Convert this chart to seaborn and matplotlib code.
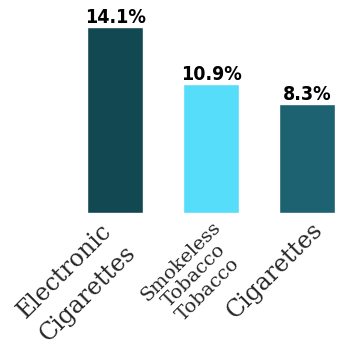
import matplotlib
matplotlib.use("Agg")
import matplotlib.pyplot as plt
import matplotlib.transforms as mtransforms
import seaborn as sns
import pandas as pd

# data
categories = ["Electronic\nCigarettes", "Smokeless\nTobacco\nTobacco", "Cigarettes"]
bar_heights = [14.1, 9.8, 8.3]
value_labels = ["14.1%", "10.9%", "8.3%"]
bar_colors = ["#124852", "#55DDFA", "#1D6270"]

df = pd.DataFrame({"product": categories, "pct": bar_heights})

sns.set_style("white")
fig = plt.figure(figsize=(3.43, 3.47), dpi=100)
ax = fig.add_axes([0, 0.386, 1, 0.614])

sns.barplot(data=df, x="product", y="pct", hue="product", palette=bar_colors,
            width=0.58, saturation=1, legend=False, ax=ax)

ax.set_xlim(-1.198, 2.375)
ax.set_ylim(0, 16.15)

# value labels on top of the bars
for bars, lab in zip(ax.containers, value_labels):
    ax.bar_label(bars, labels=[lab], padding=0, fontsize=14, fontweight="bold",
                 family="DejaVu Sans", fontstretch="condensed", color="black")

ax.set_xlabel("")
ax.set_ylabel("")
ax.set_yticks([])
ax.tick_params(axis="x", length=0, pad=0)
# per label: size, line spacing, nudge in pixels (dx, dy down), found by eye
sizes = [17, 14, 17]
spacings = [1.55, 1.12, 1.2]
nudges = [(-14, 5), (0, 5), (4, 5)]
for t, fs, ls, (dx, dy) in zip(ax.get_xticklabels(), sizes, spacings, nudges):
    t.set_rotation(45)
    t.set_rotation_mode("anchor")
    t.set_ha("right")
    t.set_va("top")
    t.set_multialignment("center")
    t.set_linespacing(ls)
    t.set_family("DejaVu Serif")
    t.set_fontsize(fs)
    t.set_transform(t.get_transform() + mtransforms.Affine2D().translate(dx, -dy))
sns.despine(ax=ax, left=True, bottom=True, top=True, right=True)

fig.savefig("out.png", dpi=100)
